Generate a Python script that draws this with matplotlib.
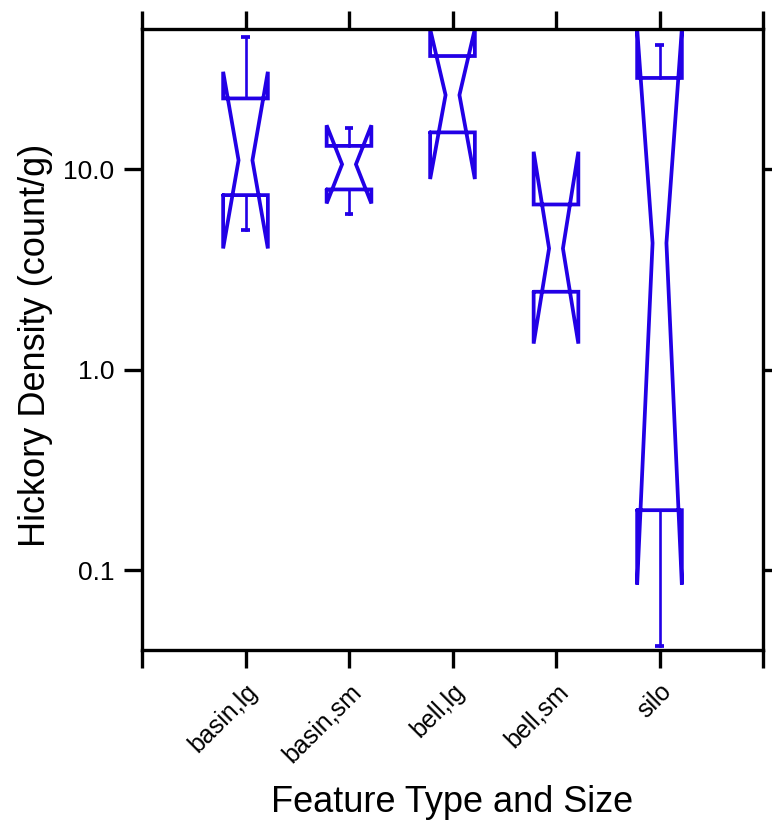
import matplotlib
matplotlib.use('Agg')
import matplotlib.pyplot as plt
from matplotlib.transforms import ScaledTranslation

plt.rcParams['font.family'] = ['Liberation Sans', 'DejaVu Sans']

# Notched box summaries (count/g)
categories = ['basin,lg', 'basin,sm', 'bell,lg', 'bell,sm', 'silo']
q1 = [7.44, 7.94, 15.3, 2.45, 0.199]
medians = [11.1, 10.6, 23.5, 4.03, 4.29]
q3 = [22.6, 13.1, 36.8, 6.68, 28.6]
ci_lo = [4.03, 6.76, 8.95, 1.35, 0.0847]
ci_hi = [30.7, 16.6, 50.2, 12.25, 50.2]
whisker_lo = [4.98, 5.96, 15.3, 2.45, 0.0417]
whisker_hi = [45.9, 16.07, 36.8, 6.68, 41.7]

y_ticks = [0.1, 1.0, 10.0]
y_tick_labels = ['0.1', '1.0', '10.0']

BLUE = '#2200e6'
HALF_W = 0.216      # half box width (category units)
NOTCH_W = 0.067     # half width at the median waist
CAP_W = 0.042

fig = plt.figure(figsize=(7.72, 8.22), dpi=100)
ax = fig.add_axes([142 / 772, 1 - 650 / 822, 621 / 772, 621 / 822])

for i, name in enumerate(categories):
    pos = i + 1
    L, R = pos - HALF_W, pos + HALF_W
    xs = [L, R, R, pos + NOTCH_W, R, R, L, L, pos - NOTCH_W, L, L]
    ys = [q1[i], q1[i], ci_lo[i], medians[i], ci_hi[i], q3[i], q3[i],
          ci_hi[i], medians[i], ci_lo[i], q1[i]]
    ax.plot(xs, ys, color=BLUE, lw=2.7, solid_capstyle='round',
            solid_joinstyle='miter')
    # whiskers and caps
    if whisker_hi[i] > q3[i]:
        ax.plot([pos, pos], [q3[i], whisker_hi[i]], color=BLUE, lw=1.9)
        ax.plot([pos - CAP_W, pos + CAP_W], [whisker_hi[i]] * 2,
                color=BLUE, lw=2.7, solid_capstyle='butt')
    if whisker_lo[i] < q1[i]:
        ax.plot([pos, pos], [whisker_lo[i], q1[i]], color=BLUE, lw=1.9)
        ax.plot([pos - CAP_W, pos + CAP_W], [whisker_lo[i]] * 2,
                color=BLUE, lw=2.7, solid_capstyle='butt')

ax.set_yscale('log')
ax.set_ylim(0.0399, 50.2)
ax.set_xlim(0, len(categories) + 1)
ax.minorticks_off()
ax.set_yticks(y_ticks)
ax.set_yticklabels(y_tick_labels, fontsize=19)
ax.yaxis.set_minor_locator(matplotlib.ticker.NullLocator())

ax.set_xticks(range(len(categories) + 2))
ax.set_xticklabels([''] + categories + [''], fontsize=18, rotation=45,
                   ha='right', va='top', rotation_mode='anchor')
shift = ScaledTranslation(7 / 72, 0, fig.dpi_scale_trans)
for lab in ax.get_xticklabels():
    lab.set_transform(lab.get_transform() + shift)

for sp in ax.spines.values():
    sp.set_linewidth(2.4)
ax.tick_params(axis='both', which='major', direction='out', length=13,
               width=2.4, top=True, right=True)
ax.tick_params(axis='x', pad=8)
ax.tick_params(axis='y', pad=7)

ax.set_ylabel('Hickory Density (count/g)', fontsize=26)
ax.yaxis.set_label_coords((36 - 142) / 621, 0.49)
ax.yaxis.label.set_va('center')
ax.set_xlabel('Feature Type and Size', fontsize=26)
ax.xaxis.set_label_coords(0.5, (650 - 812) / 621)
ax.xaxis.label.set_va('baseline')

fig.savefig('out.png', dpi=100)
